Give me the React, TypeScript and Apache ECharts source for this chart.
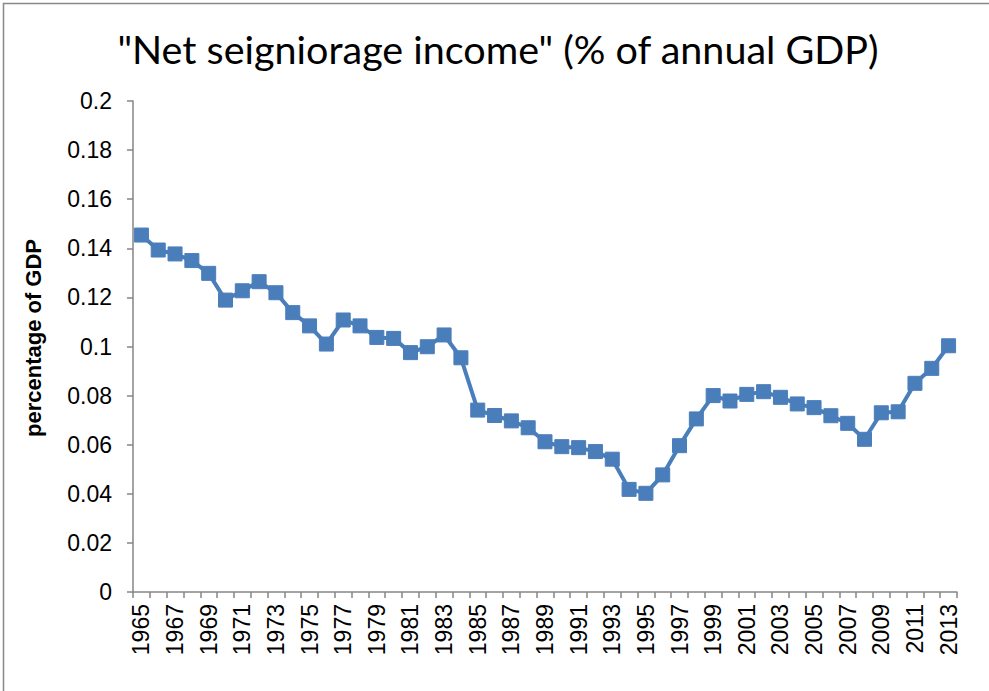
import React, { useEffect, useRef } from "react";
import * as echarts from "echarts";

const years: string[] = [];
for (let y = 1965; y <= 2013; y++) years.push(String(y));

const values = [
  0.1454, 0.1393, 0.1377, 0.135, 0.1298, 0.1189, 0.1227, 0.1264, 0.1219, 0.1138,
  0.1084, 0.101, 0.1108, 0.1084, 0.1037, 0.1033, 0.0975, 0.0999, 0.1047, 0.0954,
  0.0741, 0.0719, 0.0697, 0.0669, 0.0612, 0.0592, 0.0588, 0.0572, 0.0541, 0.0418,
  0.0402, 0.0477, 0.0596, 0.0705, 0.08, 0.0778, 0.0805, 0.0816, 0.0793, 0.0766,
  0.0751, 0.0718, 0.0687, 0.0622, 0.073, 0.0734, 0.085, 0.0911, 0.1003,
];

const titleText = '"Net seigniorage income" (% of annual GDP)';
const yAxisName = "percentage of GDP";

export default function App() {
  const ref = useRef<HTMLDivElement>(null);
  useEffect(() => {
    if (!ref.current) return;
    const chart = echarts.init(ref.current, undefined, { renderer: "svg" });
    const axisGrey = "#868686";
    chart.setOption({
      animation: false,
      backgroundColor: "#ffffff",
      title: {
        text: titleText,
        left: 493,
        top: 23,
        textAlign: "center",
        textStyle: {
          fontFamily: "Lato",
          fontSize: 39.5,
          fontWeight: "normal",
          color: "#000000",
        },
      },
      graphic: [
        {
          type: "rect",
          shape: { x: 3.5, y: 3.5, width: 1100, height: 800 },
          style: { fill: "none", stroke: "#888888", lineWidth: 1.5 },
          silent: true,
        },
        {
          type: "text",
          x: 33,
          y: 338,
          rotation: Math.PI / 2,
          silent: true,
          style: {
            text: yAxisName,
            align: "center",
            verticalAlign: "middle",
            fontFamily: "Liberation Sans",
            fontSize: 22,
            fontWeight: "bold",
            fill: "#000000",
          },
        },
      ],
      grid: { left: 133, right: 32, top: 101, bottom: 99 },
      xAxis: {
        type: "category",
        data: years,
        boundaryGap: true,
        axisLine: { lineStyle: { color: axisGrey, width: 1.5 } },
        axisTick: { show: true, interval: 0, length: 6, lineStyle: { color: axisGrey, width: 1.5 } },
        axisLabel: {
          interval: 1,
          rotate: 90,
          margin: 12,
          fontFamily: "Liberation Sans",
          fontSize: 23,
          color: "#000000",
        },
        splitLine: { show: false },
      },
      yAxis: {
        type: "value",
        min: 0,
        max: 0.2,
        interval: 0.02,
        axisLine: { show: true, lineStyle: { color: axisGrey, width: 1.5 } },
        axisTick: { show: true, length: 6, lineStyle: { color: axisGrey, width: 1.5 } },
        axisLabel: {
          margin: 21,
          fontFamily: "Liberation Sans",
          fontSize: 23,
          color: "#000000",
          formatter: (v: number) => String(parseFloat(v.toFixed(2))),
        },
        splitLine: { show: false },
      },
      series: [
        {
          type: "line",
          data: values,
          symbol: "rect",
          symbolSize: 14,
          showAllSymbol: true,
          lineStyle: { color: "#4a7ebb", width: 4 },
          itemStyle: { color: "#4a7ebb", borderColor: "#4a7ebb", borderWidth: 1 },
        },
      ],
    });
    return () => chart.dispose();
  }, []);
  return (
    <div
      ref={ref}
      style={{ position: "fixed", left: 0, top: 0, width: 989, height: 691 }}
    />
  );
}
